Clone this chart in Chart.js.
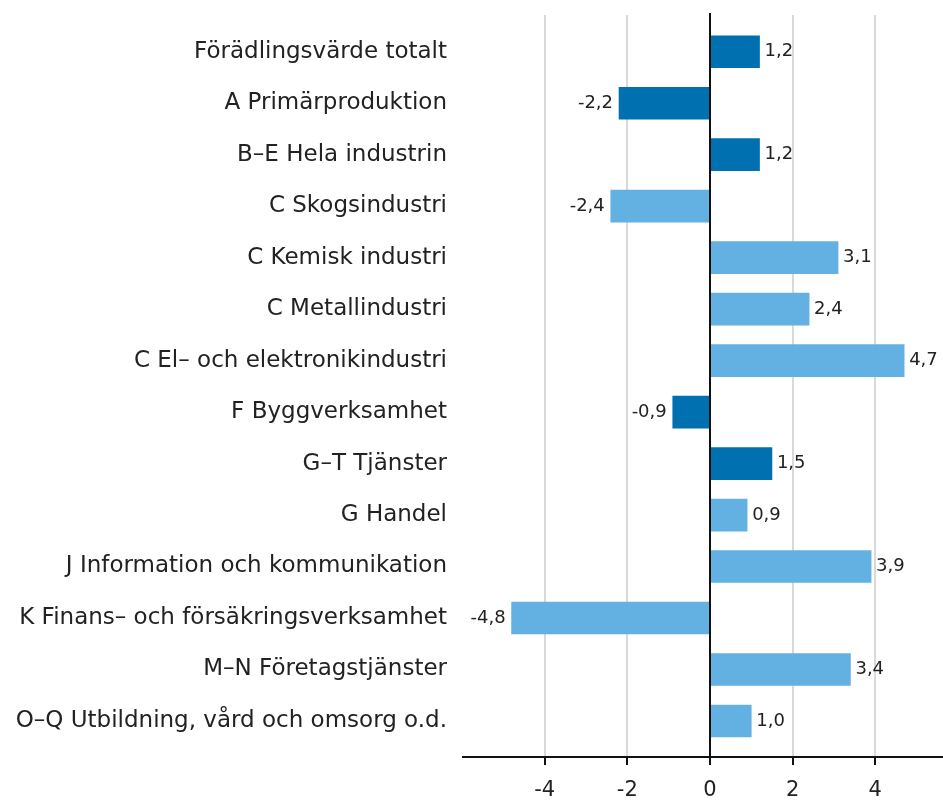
<!DOCTYPE html>
<html>
<head>
<meta charset="utf-8">
<script src="https://cdn.jsdelivr.net/npm/chart.js@4/dist/chart.umd.min.js"></script>
<style>
  html, body { margin: 0; padding: 0; background: #fff; }
  #wrap { width: 943px; height: 801px; }
</style>
</head>
<body>
<div id="wrap"><canvas id="chart" width="943" height="801"></canvas></div>
<script>
const categories = [
  'Förädlingsvärde totalt',
  'A Primärproduktion',
  'B–E Hela industrin',
  'C Skogsindustri',
  'C Kemisk industri',
  'C Metallindustri',
  'C El– och elektronikindustri',
  'F Byggverksamhet',
  'G–T Tjänster',
  'G Handel',
  'J Information och kommunikation',
  'K Finans– och försäkringsverksamhet',
  'M–N Företagstjänster',
  'O–Q Utbildning, vård och omsorg o.d.'
];
const values = [1.2, -2.2, 1.2, -2.4, 3.1, 2.4, 4.7, -0.9, 1.5, 0.9, 3.9, -4.8, 3.4, 1.0];
// 'main' = huvudgrupp, 'sub' = delbransch
const levels = ['main', 'main', 'main', 'sub', 'sub', 'sub', 'sub', 'main', 'main', 'sub', 'sub', 'sub', 'sub', 'sub'];
const xTicks = [-4, -2, 0, 2, 4];

const colorFor = { main: '#0070b0', sub: '#63b0e3' };
const FONT = '"DejaVu Sans", Verdana, sans-serif';
const fmt = v => v.toFixed(1).replace('.', ',');

const axisPlugin = {
  id: 'axisLines',
  beforeDatasetsDraw(chart) {
    const { ctx } = chart;
    const x = chart.scales.x;
    const top = 15, bottom = 757;
    ctx.save();
    ctx.lineWidth = 2;
    ctx.strokeStyle = '#d9d9d9';
    xTicks.forEach(v => {
      if (v === 0) return;
      const px = Math.round(x.getPixelForValue(v));
      ctx.beginPath();
      ctx.moveTo(px, top);
      ctx.lineTo(px, bottom);
      ctx.stroke();
    });
    ctx.restore();
  },
  afterDatasetsDraw(chart) {
    const { ctx, chartArea } = chart;
    const x = chart.scales.x;
    const bottom = 757;
    ctx.save();
    ctx.strokeStyle = '#111';
    ctx.lineWidth = 2;
    // bottom axis line
    ctx.beginPath();
    ctx.moveTo(chartArea.left, bottom);
    ctx.lineTo(chartArea.right, bottom);
    ctx.stroke();
    // tick marks
    xTicks.forEach(v => {
      const px = Math.round(x.getPixelForValue(v));
      ctx.beginPath();
      ctx.moveTo(px, bottom);
      ctx.lineTo(px, bottom + 8);
      ctx.stroke();
    });
    // zero line
    const zx = Math.round(x.getPixelForValue(0));
    ctx.beginPath();
    ctx.moveTo(zx, 13);
    ctx.lineTo(zx, bottom);
    ctx.stroke();

    // value labels
    ctx.font = '18px ' + FONT;
    ctx.fillStyle = '#222';
    ctx.textBaseline = 'middle';
    chart.getDatasetMeta(0).data.forEach((bar, i) => {
      const v = values[i];
      if (v >= 0) {
        ctx.textAlign = 'left';
        ctx.fillText(fmt(v), bar.x + 5, bar.y);
      } else {
        ctx.textAlign = 'right';
        ctx.fillText(fmt(v), bar.x - 6, bar.y);
      }
    });
    ctx.restore();
  }
};

new Chart(document.getElementById('chart'), {
  type: 'bar',
  data: {
    labels: categories,
    datasets: [{
      data: values,
      backgroundColor: levels.map(l => colorFor[l]),
      borderWidth: 0,
      barThickness: 32
    }]
  },
  options: {
    indexAxis: 'y',
    responsive: false,
    animation: false,
    layout: { padding: { top: 26, right: 0, left: 0, bottom: 0 } },
    plugins: { legend: { display: false }, tooltip: { enabled: false } },
    scales: {
      x: {
        min: -6,
        max: 5.64,
        afterBuildTicks: s => { s.ticks = xTicks.map(v => ({ value: v })); },
        afterFit: s => { s.height = 54.3; },
        grid: { display: false },
        border: { display: false },
        ticks: {
          padding: 23,
          color: '#222',
          font: { family: FONT, size: 21 },
          callback: v => String(v)
        }
      },
      y: {
        afterFit: s => { s.width = 462; },
        grid: { display: false },
        border: { display: false },
        ticks: {
          padding: 7,
          color: '#222',
          font: { family: FONT, size: 23 }
        }
      }
    }
  },
  plugins: [axisPlugin]
});
</script>
</body>
</html>
